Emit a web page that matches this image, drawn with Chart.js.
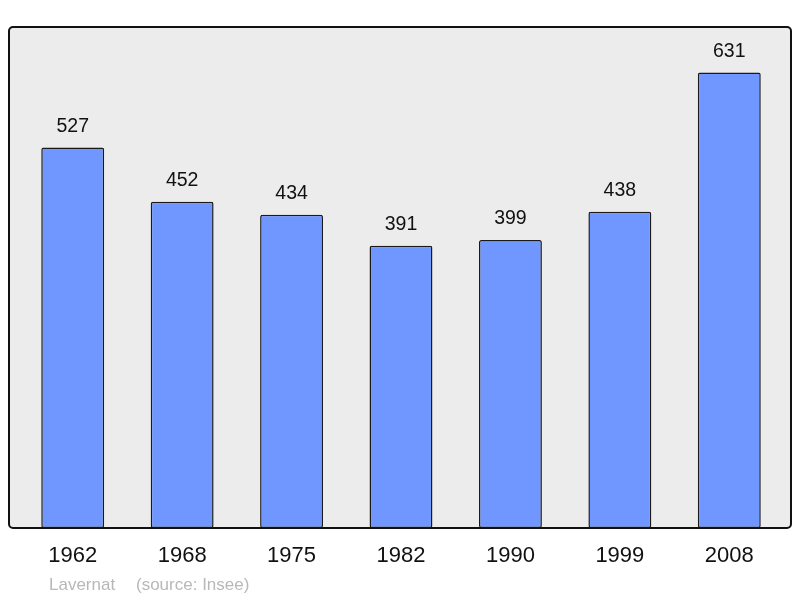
<!DOCTYPE html>
<html>
<head>
<meta charset="utf-8">
<script src="https://cdn.jsdelivr.net/npm/chart.js@4/dist/chart.umd.min.js"></script>
<style>
  html, body { margin: 0; padding: 0; background: #fff; }
  #wrap { width: 800px; height: 598px; }
</style>
</head>
<body>
<div id="wrap"><canvas id="popChart" width="800" height="598"></canvas></div>
<script>
// census years and population
const years = ['1962', '1968', '1975', '1982', '1990', '1999', '2008'];
const population = [527, 452, 434, 391, 399, 438, 631];
const yMax = 694.1;

// grey box behind the bars, a bit wider than the category axis
const plotBox = {
  id: 'plotBox',
  beforeDraw(chart) {
    const { ctx, chartArea: a } = chart;
    const x = a.left - 9, y = a.top, w = a.right - a.left + 16, h = a.bottom - a.top;
    ctx.save();
    ctx.beginPath();
    ctx.roundRect(x, y, w, h, 4);
    ctx.fillStyle = '#ececec';
    ctx.fill();
    ctx.restore();
  },
  afterDatasetsDraw(chart) {
    const { ctx, chartArea: a } = chart;
    const x = a.left - 9, y = a.top, w = a.right - a.left + 16, h = a.bottom - a.top;
    ctx.save();
    ctx.beginPath();
    ctx.roundRect(x, y, w, h, 4);
    ctx.lineWidth = 2;
    ctx.strokeStyle = '#111';
    ctx.stroke();

    // value above each bar
    ctx.font = '19.5px "Liberation Sans", Arial, sans-serif';
    ctx.fillStyle = '#111';
    ctx.textAlign = 'center';
    ctx.textBaseline = 'middle';
    chart.getDatasetMeta(0).data.forEach((bar, i) => {
      ctx.fillText(population[i], bar.x, bar.y - 21);
    });

    // footer
    ctx.font = '17px "Liberation Sans", Arial, sans-serif';
    ctx.fillStyle = '#b8b8b8';
    ctx.textAlign = 'left';
    ctx.fillText('Lavernat', 49, 585);
    ctx.fillText('(source: Insee)', 136, 585);
    ctx.restore();
  }
};

new Chart(document.getElementById('popChart'), {
  type: 'bar',
  data: {
    labels: years,
    datasets: [{
      data: population,
      backgroundColor: '#6f97ff',
      borderColor: '#1a1a1a',
      borderWidth: 1.5,
      borderRadius: 2,
      borderSkipped: false,
      barPercentage: 0.575,
      categoryPercentage: 1
    }]
  },
  options: {
    responsive: false,
    animation: false,
    layout: { padding: { left: 18, right: 16, top: 27, bottom: 0 } },
    plugins: {
      legend: { display: false },
      tooltip: { enabled: false }
    },
    scales: {
      x: {
        grid: { display: false, drawTicks: false },
        border: { display: false },
        ticks: {
          color: '#111',
          padding: 15,
          font: { size: 22, family: '"Liberation Sans", Arial, sans-serif' }
        },
        afterFit(scale) { scale.height = 70; }
      },
      y: {
        display: false,
        min: 0,
        max: yMax
      }
    }
  },
  plugins: [plotBox]
});
</script>
</body>
</html>
